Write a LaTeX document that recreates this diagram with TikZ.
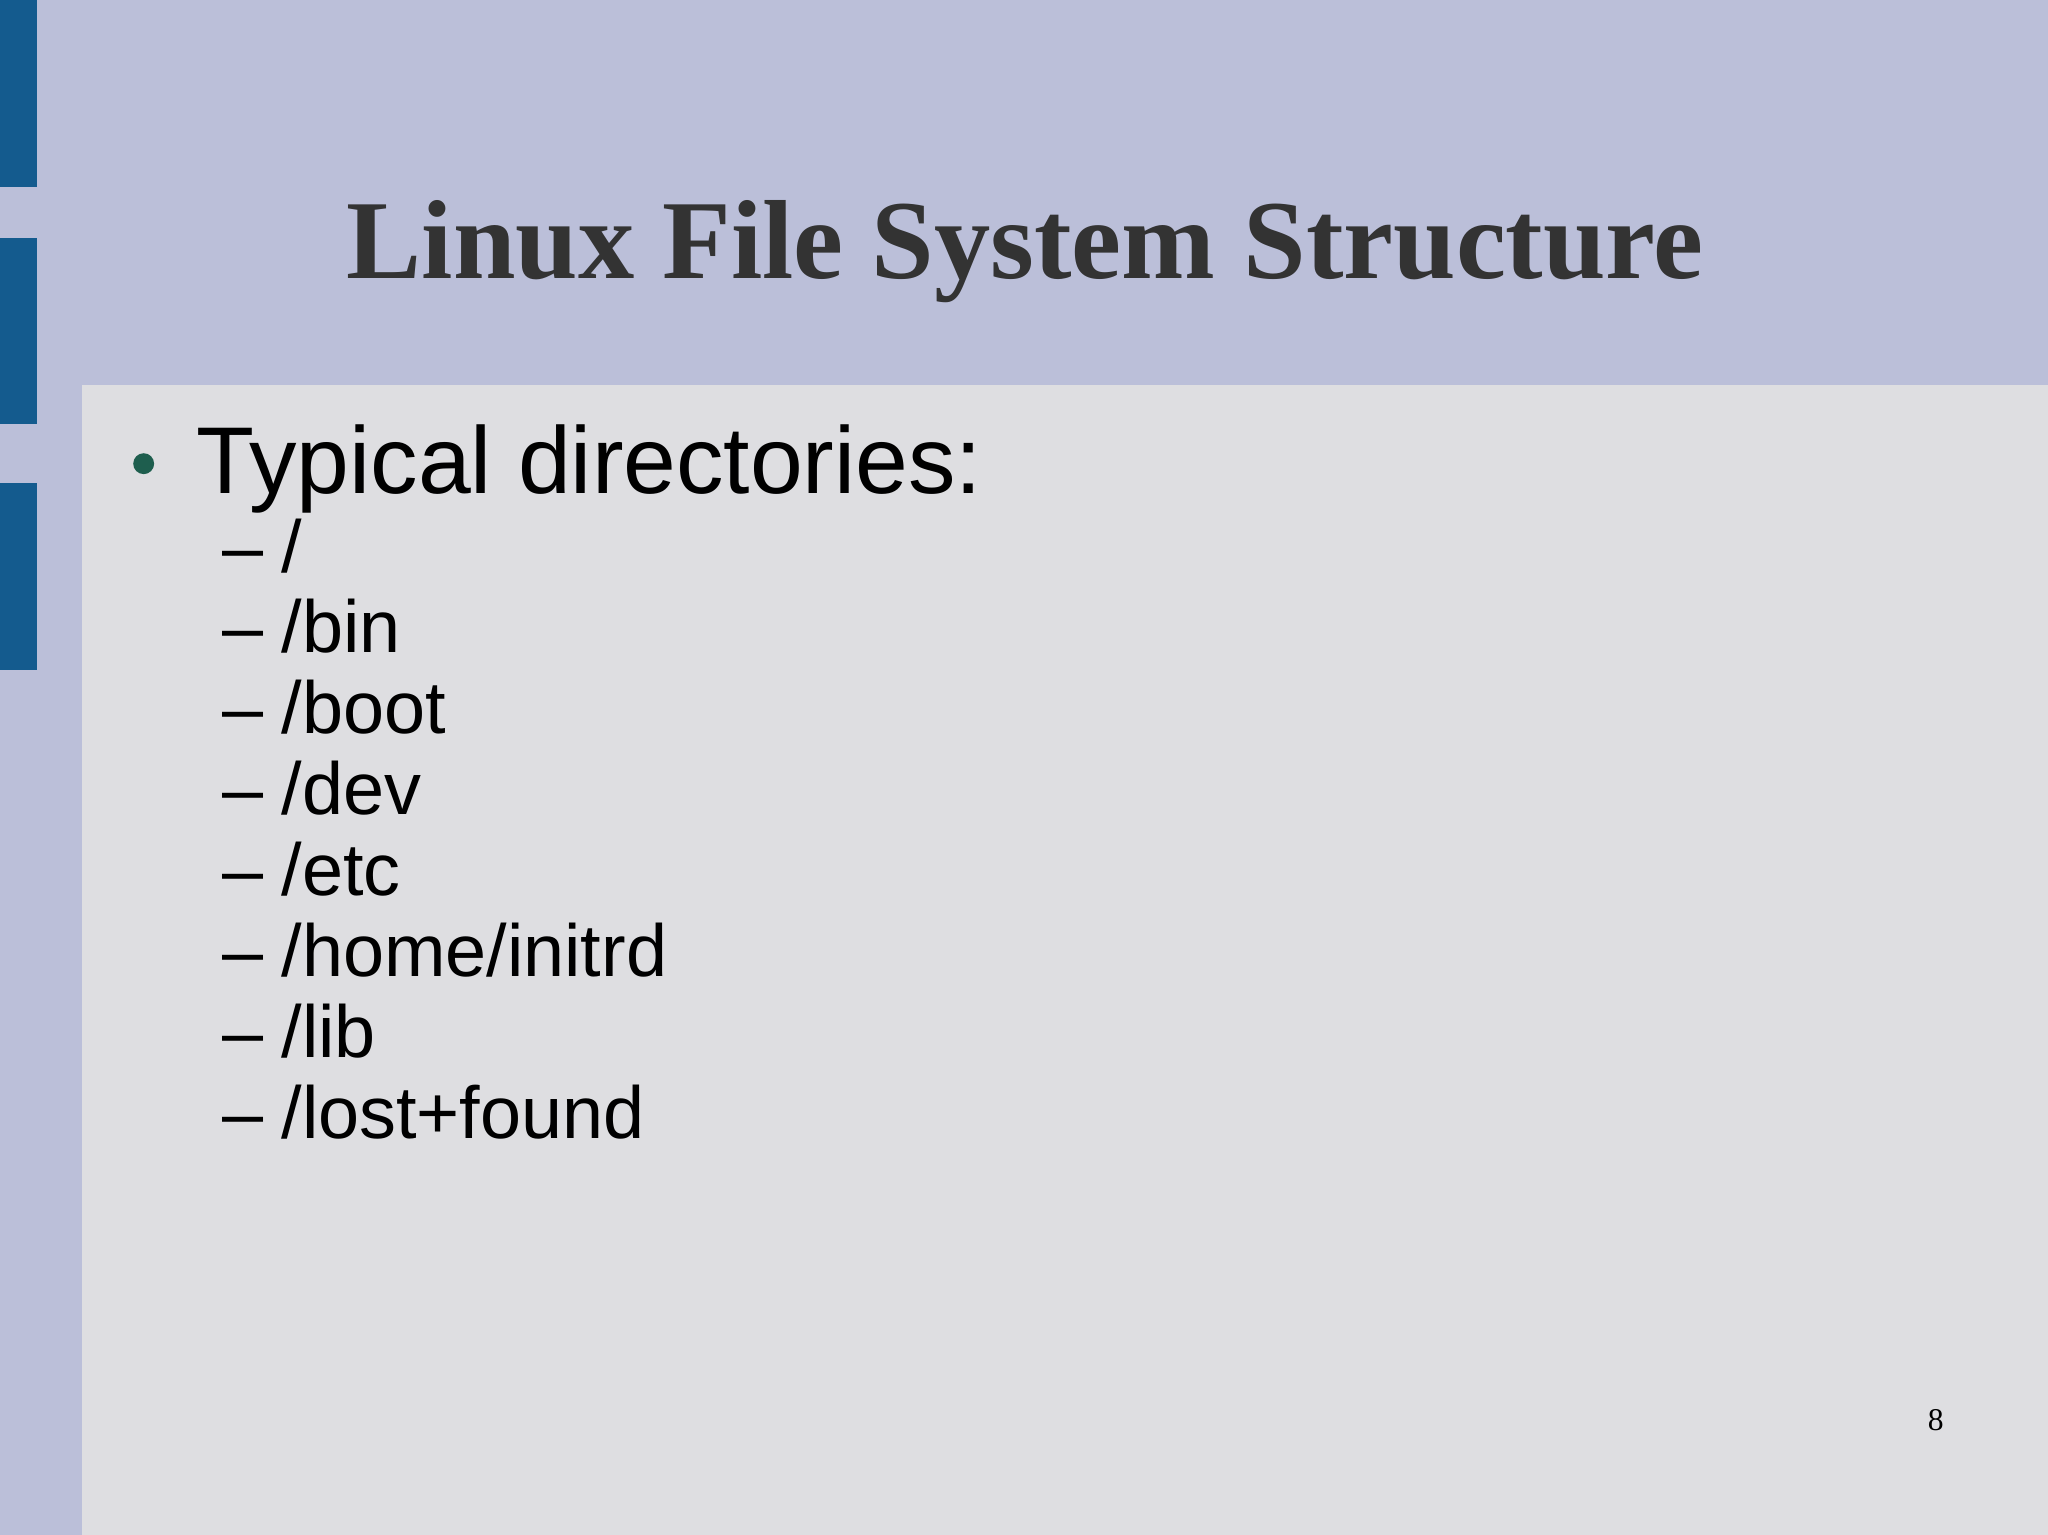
\documentclass[tikz,border=0pt]{standalone}
\usepackage{fontspec}
\setmainfont{Liberation Serif}
\setsansfont{Liberation Sans}
\usetikzlibrary{positioning}
\definecolor{slidebg}{HTML}{BBBFD9}
\definecolor{panelbg}{HTML}{DEDEE1}
\definecolor{barblue}{HTML}{145B8E}
\definecolor{titlegray}{HTML}{333333}
\definecolor{dotgreen}{HTML}{1E5E4E}
\tikzset{
	item/.style={anchor=base west,inner sep=0pt,font=\sffamily\fontsize{21}{25}\selectfont},
	dashmark/.style={anchor=base west,inner sep=0pt,font=\sffamily\fontsize{21}{25}\selectfont}
}

\begin{document}
\begin{tikzpicture}[x=0.013061cm,y=-0.013061cm]
	%Fond
	\fill[slidebg] (0,0) rectangle (1568,1175);
	\useasboundingbox (0,0) rectangle (1568,1175);
	\fill[panelbg] (63,295) rectangle (1568,1175);
	
	%Barres bleues
	\foreach \y in {0,182,370}{
		\fill[barblue] (0,\y) rectangle (28,\y+143);
	}
	
	%Titre
	\node[anchor=base,inner sep=0pt,text=titlegray,font=\bfseries\fontsize{32}{38}\selectfont] (titre) at (785,213) {Linux File System Structure};
	
	%Liste
	\fill[dotgreen] (110,355) circle (8);
	\node[anchor=base west,inner sep=0pt,font=\sffamily\fontsize{27}{32}\selectfont] (typ) at (150,378) {Typical directories:};
	
	\foreach \t [count=\i from 0] in {/,/bin,/boot,/dev,/etc,/home/initrd,/lib,/lost+found}{
		\node[dashmark] (d\i) at (170,438+61.9*\i) {\textendash};
		\node[item] (r\i) at (215,438+61.9*\i) {\t};
	}
	
	%Numero de page
	\node[anchor=base,inner sep=0pt,font=\fontsize{9}{11}\selectfont] (num) at (1482,1095) {8};
\end{tikzpicture}
\end{document}
